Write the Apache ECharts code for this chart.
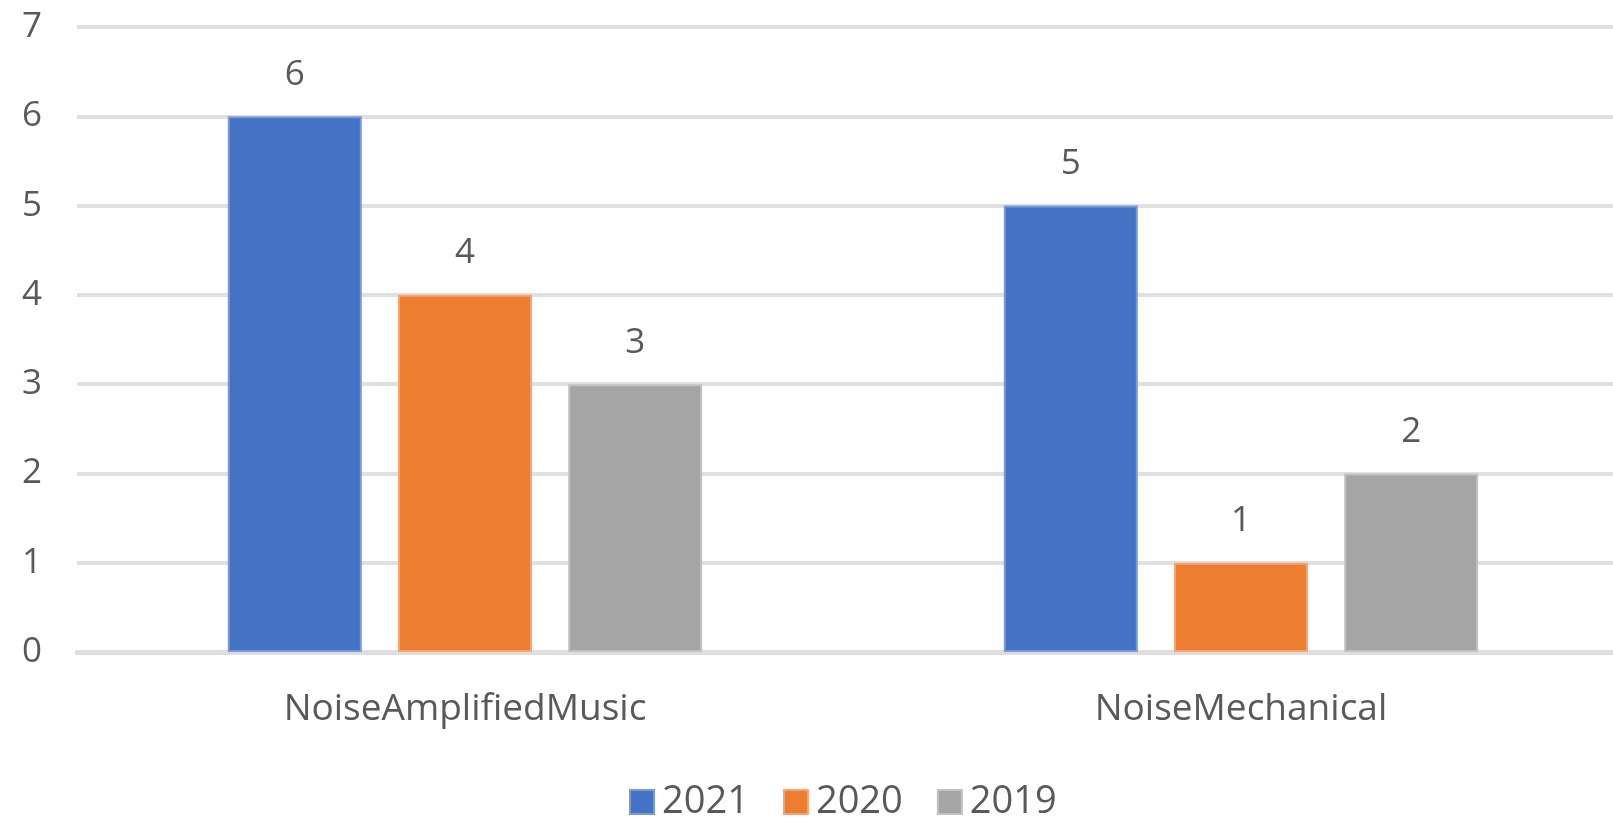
<!DOCTYPE html>
<html>
<head>
<meta charset="UTF-8">
<title>Noise</title>
<script src="https://cdn.jsdelivr.net/npm/echarts@6/dist/echarts.min.js"></script>
<style>
    html, body { margin: 0; padding: 0; background: #fff; overflow: hidden; }
    /* plot runs past the right edge like in the source picture */
    #main { width: 1629px; height: 819px; }
</style>
</head>
<body>
<div id="main"></div>
<script>
    // data
    var categories = ['NoiseAmplifiedMusic', 'NoiseMechanical'];
    var seriesNames = ['2021', '2020', '2019'];
    var v2021 = [6, 5];
    var v2020 = [4, 1];
    var v2019 = [3, 2];

    var colors = ['#4472C4', '#ED7D31', '#A5A5A5'];
    var borders = ['#7a9ad6', '#f4a573', '#c2c2c2'];
    var textColor = '#595959';
    var font = '"Open Sans", "Noto Sans", sans-serif';

    function bar(i, data) {
        return {
            name: seriesNames[i],
            type: 'bar',
            data: data,
            barWidth: 134,
            barGap: '27%',
            itemStyle: { color: colors[i], borderColor: borders[i], borderWidth: 2 },
            label: {
                show: true,
                position: 'top',
                distance: 24,
                color: textColor,
                fontFamily: font,
                fontSize: 35
            }
        };
    }

    var myChart = echarts.init(document.getElementById('main'));
    var option = {
        animation: false,
        color: colors,
        grid: { left: 77, top: 27, right: 0, bottom: 167, containLabel: false },
        legend: {
            data: seriesNames,
            left: 624,
            top: 778,
            itemWidth: 24,
            itemHeight: 24,
            itemGap: 34,
            icon: 'rect',
            textStyle: { color: textColor, fontFamily: font, fontSize: 38, padding: [0, 0, 0, 3] }
        },
        xAxis: {
            type: 'category',
            data: categories,
            axisTick: { show: false },
            axisLine: { lineStyle: { color: '#dedede', width: 5 } },
            axisLabel: { color: textColor, fontFamily: font, fontSize: 37, margin: 39 }
        },
        yAxis: {
            type: 'value',
            min: 0,
            max: 7,
            interval: 1,
            axisLine: { show: false },
            axisTick: { show: false },
            splitLine: { lineStyle: { color: '#e0e0e0', width: 4 } },
            axisLabel: { color: textColor, fontFamily: font, fontSize: 35, margin: 35 }
        },
        series: [bar(0, v2021), bar(1, v2020), bar(2, v2019)]
    };
    myChart.setOption(option);
</script>
</body>
</html>
